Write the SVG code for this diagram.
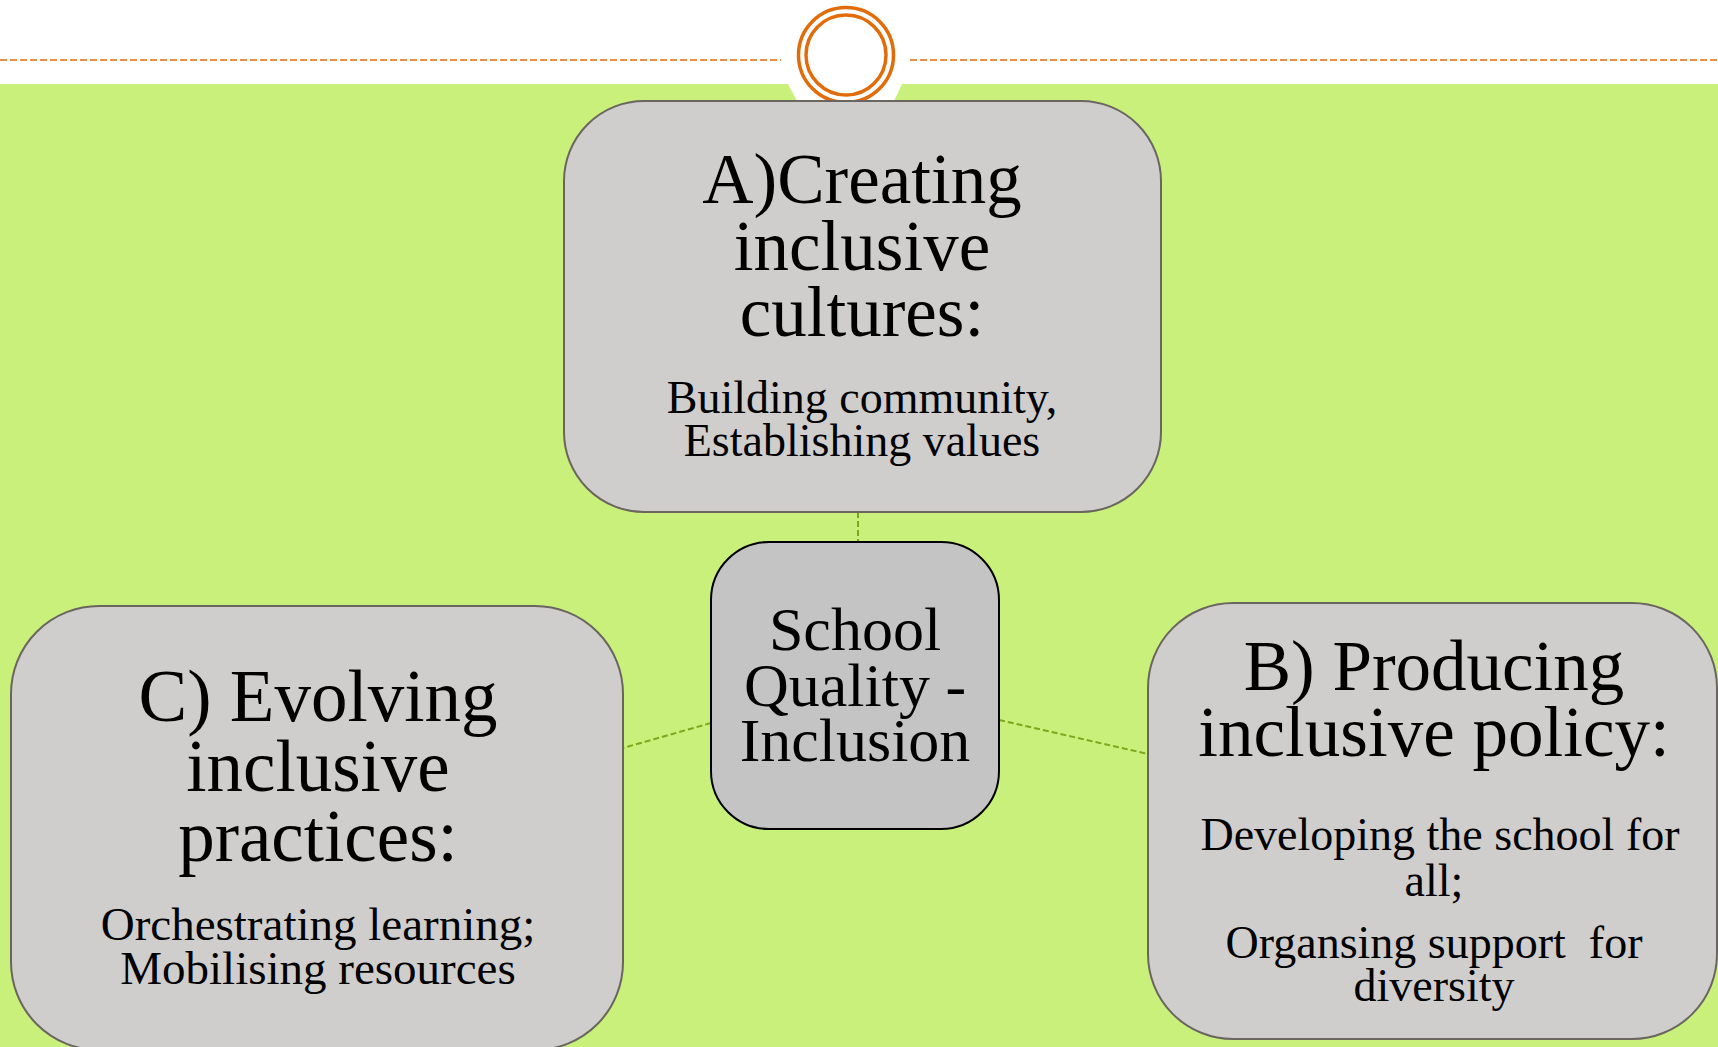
<svg xmlns="http://www.w3.org/2000/svg" width="1718" height="1047" viewBox="0 0 1718 1047">
<style>
.node{fill:#CFCECC;stroke:#6B6560;stroke-width:2}
.center{fill:#C4C4C4;stroke:#000;stroke-width:2}
.conn{stroke:#7EA51C;stroke-width:2;stroke-dasharray:6 3;fill:none}
.t{font-family:"Liberation Serif","Times New Roman",serif;fill:#000;text-anchor:middle}
.ring{fill:none;stroke:#E36C0A;stroke-width:3.5}
</style>
<rect x="0" y="0" width="1718" height="1047" fill="#FFFFFF"/>
<rect x="0" y="84" width="1718" height="963" fill="#C9F07A"/>
<g id="header">
<line x1="0" y1="60" x2="781" y2="60" stroke="#E36C0A" stroke-width="1.5" stroke-dasharray="7 3"/>
<line x1="910" y1="60" x2="1718" y2="60" stroke="#E36C0A" stroke-width="1.5" stroke-dasharray="7 3"/>
<polygon points="788,84 902,84 894,101 797,101" fill="#FFFFFF"/>
<circle cx="846" cy="55" r="47.5" class="ring" fill="#FFFFFF"/>
<circle cx="846" cy="55" r="40" class="ring"/>
</g>
<g id="connectors">
<line class="conn" x1="858" y1="512" x2="858" y2="542"/>
<line class="conn" x1="711" y1="723" x2="623" y2="748"/>
<line class="conn" x1="999" y1="720" x2="1148" y2="754"/>
</g>
<g id="nodeA">
<rect class="node" x="564" y="101" width="597" height="411" rx="80"/>
<text class="t" font-size="71"><tspan x="862" y="203">A)Creating</tspan><tspan x="862" y="270">inclusive</tspan><tspan x="862" y="336">cultures:</tspan></text>
<text class="t" font-size="46"><tspan x="862" y="413">Building community,</tspan><tspan x="862" y="456">Establishing values</tspan></text>
</g>
<g id="nodeCenter">
<rect class="center" x="711" y="542" width="288" height="287" rx="58"/>
<text class="t" font-size="62"><tspan x="855" y="650">School</tspan><tspan x="855" y="706">Quality -</tspan><tspan x="855" y="761">Inclusion</tspan></text>
</g>
<g id="nodeC">
<rect class="node" x="11" y="606" width="612" height="444" rx="88"/>
<text class="t" font-size="73"><tspan x="318" y="721">C) Evolving</tspan><tspan x="318" y="791">inclusive</tspan><tspan x="318" y="861">practices:</tspan></text>
<text class="t" font-size="47"><tspan x="318" y="940">Orchestrating learning;</tspan><tspan x="318" y="984">Mobilising resources</tspan></text>
</g>
<g id="nodeB">
<rect class="node" x="1148" y="603" width="569" height="436" rx="85"/>
<text class="t" font-size="71"><tspan x="1434" y="690">B) Producing</tspan><tspan x="1434" y="756">inclusive policy:</tspan></text>
<text class="t" font-size="46" xml:space="preserve"><tspan x="1440" y="850">Developing the school for</tspan><tspan x="1434" y="896">all;</tspan><tspan x="1434" y="958">Organsing support  for</tspan><tspan x="1434" y="1001">diversity</tspan></text>
</g>
</svg>
